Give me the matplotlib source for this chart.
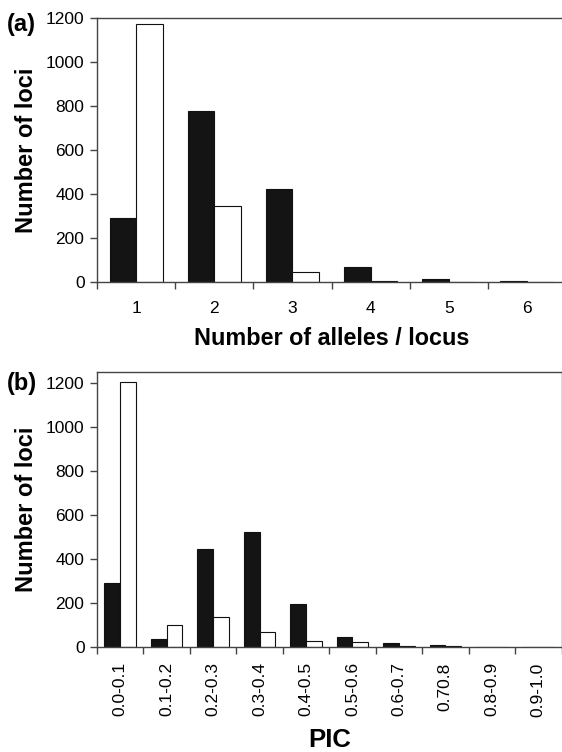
import matplotlib
matplotlib.use("Agg")
import matplotlib.pyplot as plt
import numpy as np

plt.rcParams['font.family'] = ['Liberation Sans', 'DejaVu Sans']

# Panel (a): number of alleles per locus
alleles_cats = ["1", "2", "3", "4", "5", "6"]
alleles_black = [289, 776, 424, 68, 14, 4]
alleles_white = [1173, 344, 47, 6, 2, 1]

# Panel (b): PIC
pic_cats = ["0.0-0.1", "0.1-0.2", "0.2-0.3", "0.3-0.4", "0.4-0.5",
            "0.5-0.6", "0.6-0.7", "0.70.8", "0.8-0.9", "0.9-1.0"]
pic_black = [289, 36, 447, 523, 194, 45, 20, 7, 2, 1]
pic_white = [1205, 98, 135, 67, 29, 21, 6, 3, 1, 0]

W, H = 562, 752
fig = plt.figure(figsize=(W / 100, H / 100), dpi=100)

def pos(l, r, t, b):
    return [l / W, 1 - b / H, (r - l) / W, (b - t) / H]

axcol = '#444444'
tickfs = 12.5

def style(ax, ncat, ymax, labels, rot, show_right):
    ax.set_xlim(0, ncat)
    ax.set_ylim(0, ymax)
    ax.set_yticks([0, 200, 400, 600, 800, 1000, 1200])
    ax.set_xticks(np.arange(ncat) + 0.5)
    ax.set_xticklabels(labels, rotation=rot, fontsize=tickfs)
    ax.set_xticks(np.arange(ncat + 1), minor=True)
    ax.tick_params(axis='x', which='major', length=0, pad=14)
    ax.tick_params(axis='x', which='minor', length=5, width=1, color=axcol, direction='out')
    ax.tick_params(axis='y', length=5, width=1, color=axcol, direction='out', labelsize=tickfs, pad=4)
    for s in ax.spines.values():
        s.set_color(axcol)
        s.set_linewidth(1)
    ax.spines['right'].set_visible(show_right)

bw = 0.34

ax1 = fig.add_axes(pos(97, 566, 18, 282))
x1 = np.arange(len(alleles_cats)) + 0.5
ax1.bar(x1 - bw / 2, alleles_black, width=bw, color='#141414', edgecolor='#111111', linewidth=0.8)
ax1.bar(x1 + bw / 2, alleles_white, width=bw, color='white', edgecolor='#111111', linewidth=0.8)
style(ax1, len(alleles_cats), 1200, alleles_cats, 0, False)
ax1.set_ylabel("Number of loci", fontsize=17, fontweight='bold', labelpad=6)
ax1.set_xlabel("Number of alleles / locus", fontsize=16.8, fontweight='bold', labelpad=7.5)
fig.text(7 / W, 1 - 24 / H, "(a)", fontsize=17, fontweight='bold', va='center', ha='left')

ax2 = fig.add_axes(pos(97, 561.5, 372, 647))
x2 = np.arange(len(pic_cats)) + 0.5
ax2.bar(x2 - bw / 2, pic_black, width=bw, color='#141414', edgecolor='#111111', linewidth=0.8)
ax2.bar(x2 + bw / 2, pic_white, width=bw, color='white', edgecolor='#111111', linewidth=0.8)
style(ax2, len(pic_cats), 1250, pic_cats, 90, True)
ax2.tick_params(axis='x', which='major', pad=11)
ax2.set_ylabel("Number of loci", fontsize=17, fontweight='bold', labelpad=6)
ax2.set_xlabel("PIC", fontsize=18.5, fontweight='bold', labelpad=8)
fig.text(7 / W, 1 - 384 / H, "(b)", fontsize=17, fontweight='bold', va='center', ha='left')

fig.savefig("out.png", dpi=100)
